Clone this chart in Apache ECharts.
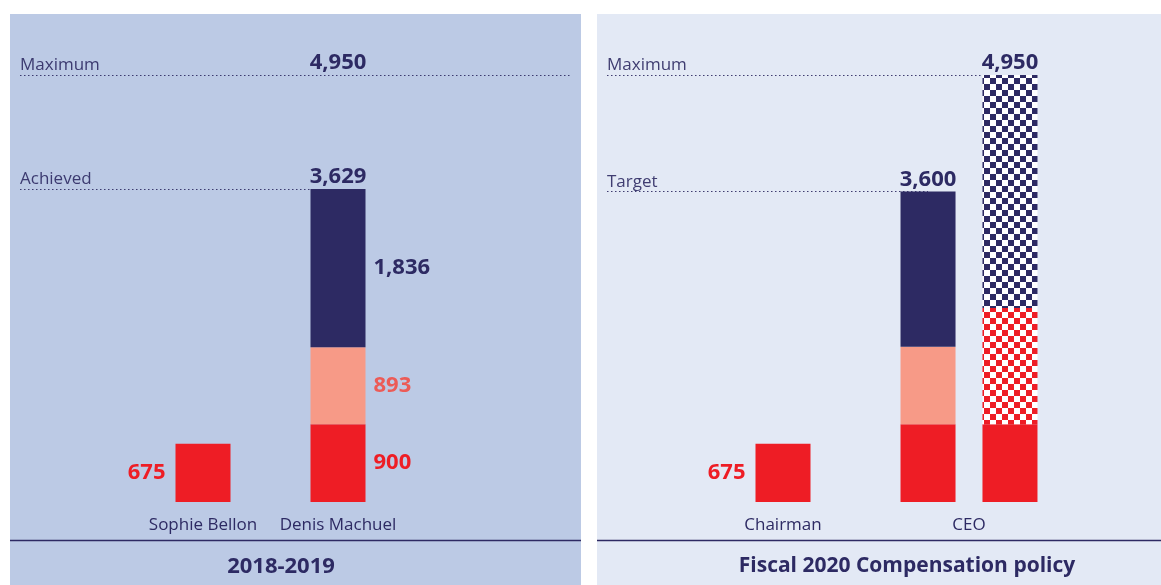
<!DOCTYPE html>
<html>
<head>
<meta charset="utf-8">
<script src="https://cdn.jsdelivr.net/npm/echarts@6/dist/echarts.min.js"></script>
<style>
  html, body { margin: 0; padding: 0; background: #fff; }
  #main { width: 1161px; height: 585px; }
</style>
</head>
<body>
<div id="main"></div>
<script>
// data
const leftCats = ['Sophie Bellon', 'Denis Machuel'];
const leftFixed = [675, 900];
const leftAnnual = [null, 893];
const leftLti = [null, 1836];

const chairCats = ['Chairman'];
const chairFixed = [675];

const ceoCats = ['CEO'];
const ceoTarget = [900, 900, 1800];   // fixed, annual variable, LTI
const ceoMax = [900, 1350, 2700];

const panelTitles = ['2018-2019', 'Fiscal 2020 Compensation policy'];

const sum = a => a.reduce((s, v) => s + (v || 0), 0);
const fmt = v => Number(v).toLocaleString('en-US');

const achieved = leftFixed[1] + leftAnnual[1] + leftLti[1];
const targetTotal = sum(ceoTarget);
const maxTotal = sum(ceoMax);

const NAVY = '#2d2a63';
const RED = '#ee1d25';
const SALMON = '#f79a87';
const SALMON_TXT = '#ec5b57';
const FONT = 'Open Sans';

// checker patterns
function checker(c) {
  const cv = document.createElement('canvas');
  cv.width = 12; cv.height = 12;
  const ctx = cv.getContext('2d');
  ctx.fillStyle = '#fff';
  ctx.fillRect(0, 0, 12, 12);
  ctx.fillStyle = c;
  ctx.fillRect(0, 0, 6, 6);
  ctx.fillRect(6, 6, 6, 6);
  return { image: cv, repeat: 'repeat' };
}

var chart = echarts.init(document.getElementById('main'));

const gridTop = 70.7, gridBottom = 83;
const yMax = 5000;

function yAx(i) {
  return { type: 'value', gridIndex: i, min: 0, max: yMax, show: false };
}
function xAx(i, cats) {
  return {
    type: 'category', gridIndex: i, data: cats,
    axisLine: { show: false }, axisTick: { show: false }, splitLine: { show: false },
    axisLabel: { interval: 0, hideOverlap: false, color: NAVY, fontFamily: FONT, fontSize: 17, margin: 15 }
  };
}
const numLabel = (color, pos) => ({
  show: true, position: pos, distance: 8, color: color,
  fontFamily: FONT, fontSize: 22, fontWeight: 'bold',
  formatter: p => fmt(p.value)
});
const dotted = { color: NAVY, type: [1.5, 2.5], width: 1, opacity: 0.9 };
const lineLbl = (txt) => ({
  show: true, position: 'insideStartTop', distance: [0, 1], formatter: txt,
  color: NAVY, fontFamily: FONT, fontSize: 17
});
const totalPoint = (cat, v) => ({
  coord: [cat, v], value: v, symbolSize: 0,
  label: {
    show: true, position: 'top', distance: 1, color: NAVY,
    fontFamily: FONT, fontSize: 22, fontWeight: 'bold',
    formatter: p => fmt(p.value)
  }
});

chart.setOption({
  backgroundColor: '#fff',
  animation: false,
  graphic: [
    { type: 'rect', z: -10, shape: { x: 10, y: 14, width: 571, height: 571 }, style: { fill: '#bccae5' } },
    { type: 'rect', z: -10, shape: { x: 597, y: 14, width: 564, height: 571 }, style: { fill: '#e3e9f5' } },
    { type: 'line', z: -5, shape: { x1: 10, y1: 540.5, x2: 581, y2: 540.5 }, style: { stroke: NAVY, lineWidth: 1.5 } },
    { type: 'line', z: -5, shape: { x1: 597, y1: 540.5, x2: 1161, y2: 540.5 }, style: { stroke: NAVY, lineWidth: 1.5 } }
  ],
  title: [
    { text: panelTitles[0], left: 276, top: 551, textAlign: 'center',
      textStyle: { color: NAVY, fontFamily: FONT, fontSize: 22, fontWeight: 'bold' } },
    { text: panelTitles[1], left: 902, top: 551, textAlign: 'center',
      textStyle: { color: NAVY, fontFamily: FONT, fontSize: 21, fontWeight: 'bold' } }
  ],
  grid: [
    { left: 135.5, width: 270, top: gridTop, bottom: gridBottom },
    { left: 733, width: 100, top: gridTop, bottom: gridBottom },
    { left: 900, width: 138, top: gridTop, bottom: gridBottom }
  ],
  xAxis: [xAx(0, leftCats), xAx(1, chairCats), xAx(2, ceoCats)],
  yAxis: [yAx(0), yAx(1), yAx(2)],
  series: [
    // left panel
    {
      type: 'bar', xAxisIndex: 0, yAxisIndex: 0, stack: 'l', barWidth: 55,
      data: leftFixed.map((v, i) => ({ value: v, label: { position: i === 0 ? 'left' : 'right', distance: i === 0 ? 10 : 8 } })),
      itemStyle: { color: RED }, label: numLabel(RED, 'right')
    },
    {
      type: 'bar', xAxisIndex: 0, yAxisIndex: 0, stack: 'l', barWidth: 55,
      data: leftAnnual, itemStyle: { color: SALMON }, label: numLabel(SALMON_TXT, 'right')
    },
    {
      type: 'bar', xAxisIndex: 0, yAxisIndex: 0, stack: 'l', barWidth: 55,
      data: leftLti, itemStyle: { color: NAVY }, label: numLabel(NAVY, 'right'),
      markPoint: { symbol: 'rect', data: [totalPoint(leftCats[1], maxTotal), totalPoint(leftCats[1], achieved)] },
      markLine: {
        z: 1, symbol: 'none', silent: true, lineStyle: dotted,
        data: [
          [{ x: 20, yAxis: maxTotal, label: lineLbl('Maximum') }, { x: 572, yAxis: maxTotal }],
          [{ x: 20, yAxis: achieved, label: lineLbl('Achieved') }, { coord: [leftCats[1], achieved] }]
        ]
      }
    },
    // right panel - chairman
    {
      type: 'bar', xAxisIndex: 1, yAxisIndex: 1, barWidth: 55,
      data: chairFixed, itemStyle: { color: RED }, label: Object.assign(numLabel(RED, 'left'), { distance: 10 })
    },
    // right panel - CEO target
    {
      type: 'bar', xAxisIndex: 2, yAxisIndex: 2, stack: 't', barWidth: 55, barGap: '49%',
      data: [ceoTarget[0]], itemStyle: { color: RED }
    },
    {
      type: 'bar', xAxisIndex: 2, yAxisIndex: 2, stack: 't', barWidth: 55, barGap: '49%',
      data: [ceoTarget[1]], itemStyle: { color: SALMON }
    },
    {
      type: 'bar', xAxisIndex: 2, yAxisIndex: 2, stack: 't', barWidth: 55, barGap: '49%',
      data: [ceoTarget[2]], itemStyle: { color: NAVY },
      markPoint: { symbol: 'rect', data: [totalPoint(ceoCats[0], targetTotal)] },
      markLine: {
        z: 1, symbol: 'none', silent: true, lineStyle: dotted,
        data: [[{ x: 607, yAxis: targetTotal, label: lineLbl('Target') }, { coord: [ceoCats[0], targetTotal] }]]
      }
    },
    // right panel - CEO maximum
    {
      type: 'bar', xAxisIndex: 2, yAxisIndex: 2, stack: 'm', barWidth: 55, barGap: '49%',
      data: [ceoMax[0]], itemStyle: { color: RED }
    },
    {
      type: 'bar', xAxisIndex: 2, yAxisIndex: 2, stack: 'm', barWidth: 55, barGap: '49%',
      data: [ceoMax[1]], itemStyle: { color: checker(RED) }
    },
    {
      type: 'bar', xAxisIndex: 2, yAxisIndex: 2, stack: 'm', barWidth: 55, barGap: '49%',
      data: [ceoMax[2]], itemStyle: { color: checker(NAVY) },
      markPoint: { symbol: 'rect', data: [totalPoint(ceoCats[0], maxTotal)] },
      markLine: {
        z: 1, symbol: 'none', silent: true, lineStyle: dotted,
        data: [[{ x: 607, yAxis: maxTotal, label: lineLbl('Maximum') }, { coord: [ceoCats[0], maxTotal] }]]
      }
    }
  ]
});
</script>
</body>
</html>
